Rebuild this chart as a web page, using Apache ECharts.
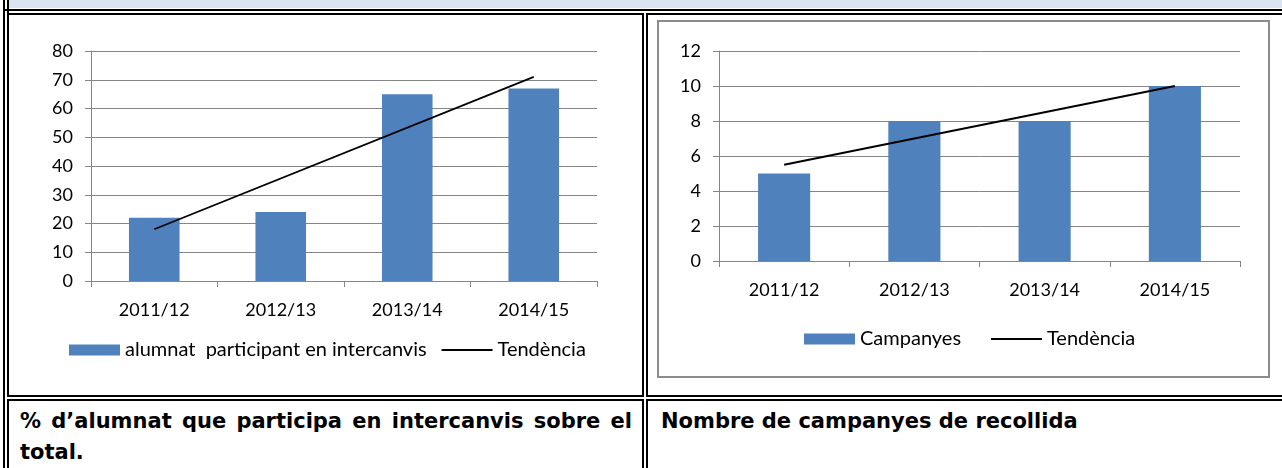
<!DOCTYPE html>
<html>
<head>
<meta charset="utf-8">
<script src="https://cdn.jsdelivr.net/npm/echarts@6/dist/echarts.min.js"></script>
<style>
  html, body { margin: 0; padding: 0; background: #fff; }
  body { width: 1282px; height: 468px; position: relative; overflow: hidden; }
  .abs { position: absolute; box-sizing: border-box; }
  .band { left: 9px; top: 0; width: 1273px; height: 8px; background: #dbe5f1; }
  .vline { width: 2px; background: #000; }
  .hline { height: 2px; background: #000; }
  .cell { border: 2px solid #000; }
  .chart { position: absolute; }
  .frame { border: 2px solid #8c8c8c; }
  .caption {
    font-family: "DejaVu Sans", Verdana, sans-serif;
    font-weight: bold;
    font-size: 21px;
    line-height: 31px;
    color: #000;
    white-space: nowrap;
  }
  .justify { text-align: justify; text-align-last: justify; white-space: normal; }
</style>
</head>
<body>
<div class="abs band"></div>
<div class="abs vline" style="left:3px;top:0;height:13px;"></div>
<div class="abs vline" style="left:7px;top:0;height:13px;"></div>
<div class="abs hline" style="left:3px;top:9px;width:1279px;"></div>

<div class="abs" style="left:3px;top:9px;width:1400px;height:600px;border-left:2px solid #000;"></div>
<div class="abs cell" style="left:7px;top:13px;width:637px;height:384px;"></div>
<div class="abs cell" style="left:646px;top:13px;width:700px;height:384px;"></div>
<div class="abs cell" style="left:7px;top:399px;width:637px;height:200px;"></div>
<div class="abs cell" style="left:646px;top:399px;width:700px;height:200px;"></div>

<div class="abs frame" style="left:657px;top:20px;width:613px;height:358px;"></div>

<div id="chartLeft" class="chart" style="left:0;top:0;width:642px;height:395px;"></div>
<div id="chartRight" class="chart" style="left:642px;top:0;width:640px;height:395px;"></div>

<div class="abs caption" style="left:20px;top:406px;width:612px;">
  <div class="justify">% d’alumnat que participa en intercanvis sobre el</div>
  <div>total.</div>
</div>
<div class="abs caption" style="left:661px;top:406px;">Nombre de campanyes de recollida</div>

<script>
const categories = ["2011/12", "2012/13", "2013/14", "2014/15"];

const alumnatName = "alumnat  participant en intercanvis";
const alumnatValues = [22, 24, 65, 67];
// trend line read at the first and last category
const alumnatTrend = [18, null, null, 71];

const campanyesName = "Campanyes";
const campanyesValues = [5, 8, 8, 10];
const campanyesTrend = [5.5, null, null, 10];

const trendName = "Tendència";

const gridColor = "#868686";
const barColor = "#4f81bd";
const labelFont = "Lato, 'Open Sans', sans-serif";

const buildOption = (cfg) => ({
  animation: false,
  textStyle: { fontFamily: labelFont },
  grid: cfg.grid,
  legend: {
    left: cfg.legendLeft,
    top: cfg.legendTop,
    padding: 0,
    itemWidth: 51,
    itemHeight: 11,
    itemGap: cfg.legendGap,
    textStyle: { fontSize: 20, color: "#000", fontFamily: labelFont },
    data: [
      { name: cfg.barName, icon: "rect" },
      {
        name: trendName,
        itemStyle: { opacity: 0, color: "rgba(0,0,0,0)", borderWidth: 0 },
        lineStyle: { color: "#000", width: 1.8 },
      },
    ],
  },
  xAxis: {
    type: "category",
    data: categories,
    axisLine: { lineStyle: { color: gridColor, width: 1 } },
    axisTick: { show: true, length: 6, lineStyle: { color: gridColor } },
    axisLabel: { color: "#000", fontSize: 18, margin: 20 },
  },
  yAxis: {
    type: "value",
    min: 0,
    max: cfg.yMax,
    interval: cfg.yStep,
    axisLine: { show: true, lineStyle: { color: gridColor, width: 1 } },
    axisTick: { show: true, length: 6, lineStyle: { color: gridColor } },
    axisLabel: { color: "#000", fontSize: 18, margin: 18 },
    splitLine: { lineStyle: { color: gridColor, width: 1 } },
  },
  series: [
    {
      name: cfg.barName,
      type: "bar",
      data: cfg.values,
      barWidth: "40%",
      itemStyle: { color: barColor },
    },
    {
      name: trendName,
      type: "line",
      data: cfg.trend,
      connectNulls: true,
      symbol: "none",
      lineStyle: { color: "#000", width: 1.8 },
      itemStyle: { color: "#000" },
      z: 5,
    },
  ],
});

const leftChart = echarts.init(document.getElementById("chartLeft"));
leftChart.setOption(buildOption({
  grid: { left: 91, top: 51, width: 506, height: 230 },
  legendLeft: 69,
  legendTop: 340,
  legendGap: 14,
  barName: alumnatName,
  values: alumnatValues,
  trend: alumnatTrend,
  yMax: 80,
  yStep: 10,
}));

const rightChart = echarts.init(document.getElementById("chartRight"));
rightChart.setOption(buildOption({
  grid: { left: 77, top: 51, width: 521, height: 210 },
  legendLeft: 162,
  legendTop: 329,
  legendGap: 29,
  barName: campanyesName,
  values: campanyesValues,
  trend: campanyesTrend,
  yMax: 12,
  yStep: 2,
}));
</script>
</body>
</html>
